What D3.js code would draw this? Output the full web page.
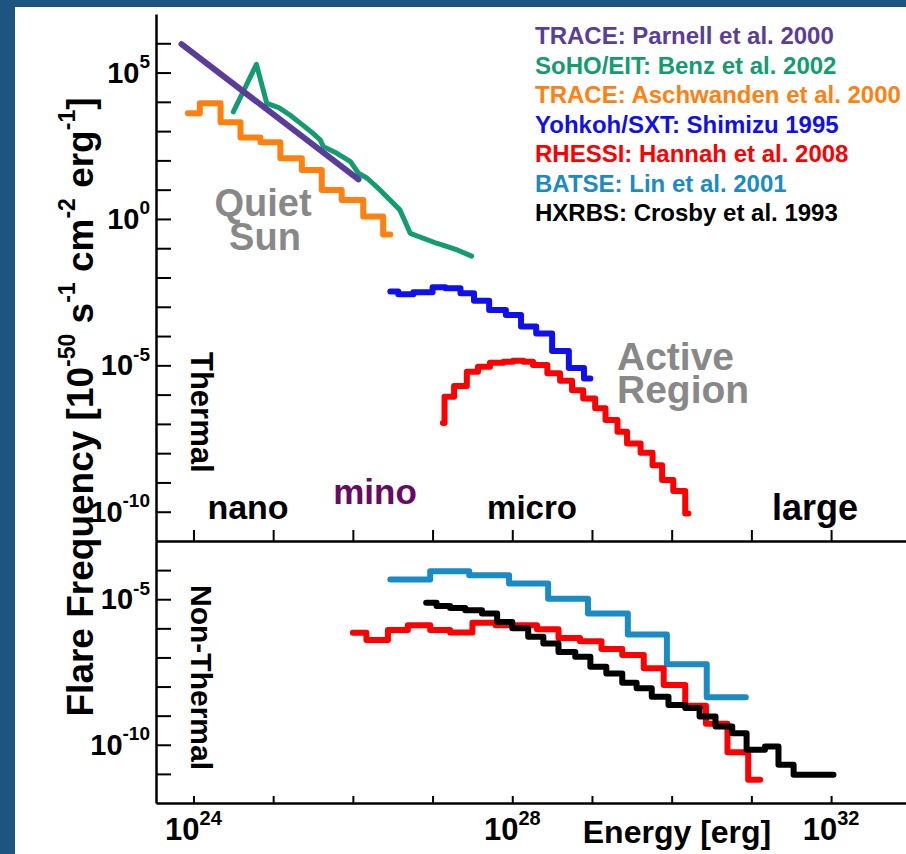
<!DOCTYPE html>
<html>
<head>
<meta charset="utf-8">
<script src="https://cdn.jsdelivr.net/npm/d3@7"></script>
<style>
body { margin: 0; background: #1d5480; }
svg { display: block; font-family: "Liberation Sans", Arial, sans-serif; font-weight: bold; }
</style>
</head>
<body>
<div id="graph"></div>
<script>
var width = 906;
var height = 854;

// all values are log10
// x: energy [erg], y: flare frequency [1e-50 s-1 cm-2 erg-1]
var parnellE = [23.85, 26.07];
var parnellF = [5.97, 1.35];

var benzE = [24.50, 24.79, 24.92, 25.07, 25.21, 25.36, 25.51, 25.59, 25.63, 25.80, 25.97, 26.07, 26.18, 26.34, 26.59, 26.72, 27.05, 27.31, 27.49];
var benzF = [3.66, 5.28, 3.95, 3.80, 3.55, 3.23, 2.90, 2.70, 2.47, 2.24, 1.96, 1.56, 1.39, 0.99, 0.31, -0.49, -0.83, -1.06, -1.27];

// histograms: bin edges (last one = end) and bin levels
var aschwandenE = [23.93, 24.08, 24.34, 24.59, 24.84, 25.09, 25.36, 25.61, 25.86, 26.13, 26.38, 26.47];
var aschwandenF = [3.61, 3.95, 3.30, 2.78, 2.62, 2.07, 1.67, 0.99, 0.65, 0.08, -0.53];

var shimizuE = [26.47, 26.57, 26.76, 27.00, 27.16, 27.35, 27.52, 27.71, 27.92, 28.11, 28.30, 28.50, 28.71, 28.90, 28.98];
var shimizuF = [-2.48, -2.57, -2.50, -2.33, -2.37, -2.54, -2.79, -3.11, -3.28, -3.67, -3.91, -4.51, -5.09, -5.45];

var hannahThermE = [27.13, 27.15, 27.27, 27.43, 27.57, 27.72, 27.89, 28.01, 28.14, 28.26, 28.44, 28.60, 28.75, 28.89, 29.04, 29.17, 29.32, 29.44, 29.61, 29.76, 29.88, 30.02, 30.17, 30.21];
var hannahThermF = [-6.97, -6.07, -5.71, -5.22, -5.05, -4.91, -4.88, -4.84, -4.88, -4.99, -5.27, -5.53, -5.85, -6.13, -6.47, -6.87, -7.27, -7.67, -7.99, -8.41, -8.92, -9.29, -10.06];

var linE = [26.47, 26.97, 27.46, 27.96, 28.45, 28.95, 29.45, 29.94, 30.44, 30.93];
var linF = [-4.32, -4.04, -4.18, -4.46, -4.98, -5.49, -6.21, -7.23, -8.37];

var hannahNonThermE = [26.00, 26.17, 26.44, 26.69, 26.97, 27.22, 27.50, 27.79, 28.31, 28.58, 28.85, 29.12, 29.38, 29.65, 29.90, 30.17, 30.43, 30.70, 30.96, 31.11];
var hannahNonThermF = [-6.15, -6.40, -6.06, -5.89, -6.06, -6.14, -5.81, -5.89, -6.03, -6.33, -6.44, -6.71, -6.92, -7.37, -7.95, -8.66, -9.28, -10.26, -11.20];

var crosbyE = [26.92, 27.05, 27.22, 27.41, 27.62, 27.81, 28.00, 28.20, 28.39, 28.58, 28.79, 28.98, 29.18, 29.38, 29.56, 29.75, 29.96, 30.17, 30.35, 30.55, 30.76, 30.94, 31.17, 31.34, 31.53, 32.03];
var crosbyF = [-5.12, -5.23, -5.30, -5.38, -5.49, -5.78, -6.00, -6.29, -6.52, -6.81, -6.98, -7.32, -7.55, -7.87, -8.06, -8.35, -8.63, -8.74, -9.03, -9.37, -9.60, -10.17, -10.06, -10.69, -11.03];

var legendLabels = ['TRACE: Parnell et al. 2000', 'SoHO/EIT: Benz et al. 2002', 'TRACE: Aschwanden et al. 2000',
    'Yohkoh/SXT: Shimizu 1995', 'RHESSI: Hannah et al. 2008', 'BATSE: Lin et al. 2001', 'HXRBS: Crosby et al. 1993'];
var legendColors = ['#5a3d9a', '#129c6f', '#ff800f', '#1010ee', '#ff0000', '#1a8bc4', '#000000'];

var xTickExp = [24, 25, 26, 27, 28, 29, 30, 31, 32];
var xLabelExp = [24, 28, 32];
var topTickExp = d3.range(-10, 7);
var topLabelExp = [5, 0, -5, -10];
var bottomTickExp = d3.range(-11, -3);
var bottomLabelExp = [-5, -10];

var graph = document.getElementById('graph');
var svg = d3.select(graph)
    .append('svg')
    .attr('width', width)
    .attr('height', height);

svg.append('rect').attr('width', width).attr('height', height).attr('fill', '#1d5480');
svg.append('rect').attr('x', 15).attr('y', 7).attr('width', width - 15).attr('height', height - 7).attr('fill', '#fff');

var p10 = function(v) { return Math.pow(10, v); };

var x = d3.scaleLog().domain([p10(23.53), p10(32.94)]).range([156, 906]);
var yTop = d3.scaleLog().domain([p10(-11), p10(7)]).range([541, 14]);
var yBottom = d3.scaleLog().domain([p10(-12), p10(-3)]).range([803, 541]);

// axes
var axisStyle = function(g, w) {
    g.select('.domain').attr('stroke', '#000').attr('stroke-width', 2.5);
    g.selectAll('.tick line').attr('stroke', '#000').attr('stroke-width', w);
};

svg.append('g').attr('transform', 'translate(156,0)')
    .call(d3.axisRight(yTop).tickValues(topTickExp.map(p10)).tickSize(15).tickSizeOuter(0).tickFormat(''))
    .call(axisStyle, 2);
svg.append('g').attr('transform', 'translate(156,0)')
    .call(d3.axisRight(yBottom).tickValues(bottomTickExp.map(p10)).tickSize(15).tickSizeOuter(0).tickFormat(''))
    .call(axisStyle, 2);
svg.append('g').attr('transform', 'translate(0,541)')
    .call(d3.axisTop(x).tickValues(xTickExp.map(p10)).tickSize(11).tickSizeOuter(0).tickFormat(''))
    .call(axisStyle, 2);
svg.append('g').attr('transform', 'translate(0,803)')
    .call(d3.axisTop(x).tickValues(xTickExp.map(p10)).tickSize(7).tickSizeOuter(0).tickFormat(''))
    .call(axisStyle, 2);

var powerLabel = function(px, py, exp, size, supSize, anchor) {
    var t = svg.append('text').attr('x', px).attr('y', py)
        .attr('text-anchor', anchor).style('font-size', size + 'px');
    t.append('tspan').text('10');
    t.append('tspan').attr('dy', -size * 0.5).style('font-size', supSize + 'px').text(exp);
};

topLabelExp.forEach(function(e) { powerLabel(150, yTop(p10(e)) + 10, e, 29, 19, 'end'); });
bottomLabelExp.forEach(function(e) { powerLabel(150, yBottom(p10(e)) + 10, e, 29, 19, 'end'); });
xLabelExp.forEach(function(e) { powerLabel(x(p10(e)), 840, e, 31, 20, 'middle'); });

svg.append('text').attr('x', 677).attr('y', 843).attr('text-anchor', 'middle')
    .style('font-size', '32px').text('Energy [erg]');

// y title with superscripts
var yTitle = svg.append('text').attr('transform', 'translate(75,407) rotate(-90)')
    .attr('text-anchor', 'middle').style('font-size', '37px');
var titleParts = [['Flare Frequency [10', false], ['-50', true], [' s', false], ['-1', true],
    [' cm', false], ['-2', true], [' erg', false], ['-1', true], [']', false]];
titleParts.forEach(function(p) {
    yTitle.append('tspan')
        .attr('dy', p[1] ? -18 : (yTitle.selectAll('tspan').size() ? 18 : 0))
        .style('font-size', p[1] ? '23px' : '37px')
        .text(p[0]);
});

// data lines
var toPoints = function(E, F) {
    return E.map(function(e, i) { return [p10(e), p10(F[Math.min(i, F.length - 1)])]; });
};

var drawLine = function(E, F, yScale, color, w, curve) {
    var line = d3.line()
        .x(function(d) { return x(d[0]); })
        .y(function(d) { return yScale(d[1]); })
        .curve(curve);
    svg.append('path')
        .datum(toPoints(E, F))
        .attr('d', line)
        .attr('fill', 'none')
        .attr('stroke', color)
        .attr('stroke-width', w)
        .attr('stroke-linejoin', 'round')
        .attr('stroke-linecap', 'round');
};

drawLine(aschwandenE, aschwandenF, yTop, legendColors[2], 6, d3.curveStepAfter);
drawLine(benzE, benzF, yTop, legendColors[1], 5, d3.curveLinear);
drawLine(parnellE, parnellF, yTop, legendColors[0], 6, d3.curveLinear);
drawLine(shimizuE, shimizuF, yTop, legendColors[3], 6, d3.curveStepAfter);
drawLine(hannahThermE, hannahThermF, yTop, legendColors[4], 6, d3.curveStepAfter);

drawLine(linE, linF, yBottom, legendColors[5], 6, d3.curveStepAfter);
drawLine(hannahNonThermE, hannahNonThermF, yBottom, legendColors[4], 6, d3.curveStepAfter);
drawLine(crosbyE, crosbyF, yBottom, legendColors[6], 6, d3.curveStepAfter);

// legend
svg.selectAll('.legend')
    .data(legendLabels)
    .enter()
    .append('text')
    .attr('class', 'legend')
    .attr('x', 535)
    .attr('y', function(d, i) { return 44 + i * 29.5; })
    .attr('fill', function(d, i) { return legendColors[i]; })
    .style('font-size', '24px')
    .text(function(d) { return d; });

// annotations
var note = function(txt, px, py, size, color, anchor, rot) {
    svg.append('text')
        .attr('transform', 'translate(' + px + ',' + py + ')' + (rot ? ' rotate(' + rot + ')' : ''))
        .attr('text-anchor', anchor)
        .attr('fill', color)
        .style('font-size', size + 'px')
        .text(txt);
};

// two-line gray labels as one text each
var twoLine = function(lines, px, py, gap, size, anchor) {
    var t = svg.append('text').attr('text-anchor', anchor).attr('fill', '#888')
        .style('font-size', size + 'px');
    lines.forEach(function(l, i) {
        t.append('tspan').attr('x', px[i]).attr('y', py + i * gap).text(l);
    });
};

twoLine(['Quiet', 'Sun'], [263, 265], 216, 34, 38, 'middle');
twoLine(['Active', 'Region'], [617, 617], 370, 33, 39, 'start');

note('Thermal', 191, 352, 31, '#000', 'start', 90);
note('Non-Thermal', 191, 585, 30, '#000', 'start', 90);
note('nano', 248, 519, 34, '#000', 'middle');
note('mino', 375, 504, 35, '#660a66', 'middle');
note('micro', 532, 519, 33, '#000', 'middle');
note('large', 815, 520, 36, '#000', 'middle');
</script>
</body>
</html>
